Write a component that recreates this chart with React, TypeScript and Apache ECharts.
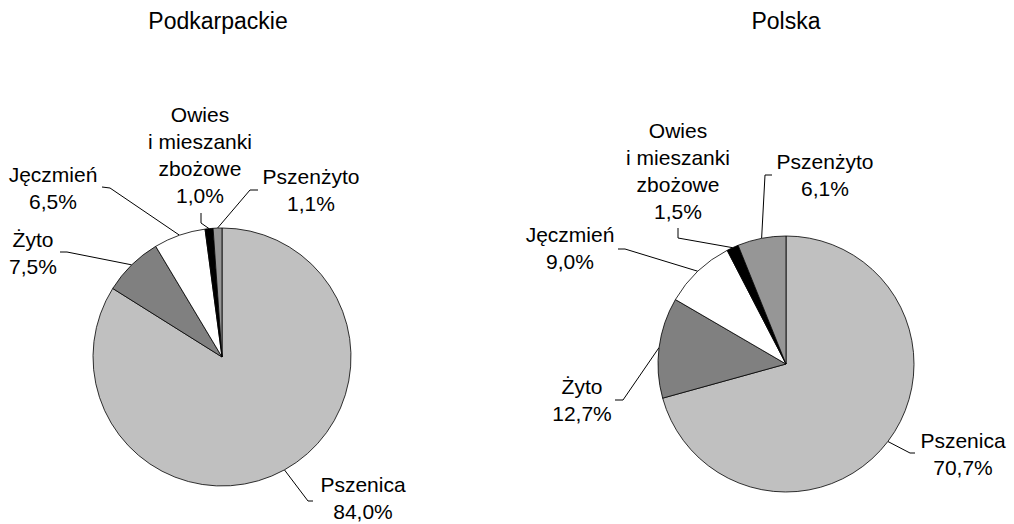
import React, { useEffect, useRef } from "react";
import * as echarts from "echarts";

const chartTitles = ["Podkarpackie", "Polska"];
const categories = ["Pszenica", "Żyto", "Jęczmień", "Owies i mieszanki zbożowe", "Pszenżyto"];
const categoryLabels = ["Pszenica", "Żyto", "Jęczmień", "Owies\ni mieszanki\nzbożowe", "Pszenżyto"];
const podkarpackieValues = [84.0, 7.5, 6.5, 1.0, 1.1];
const polskaValues = [70.7, 12.7, 9.0, 1.5, 6.1];
const sliceColors = ["#c0c0c0", "#808080", "#ffffff", "#000000", "#969696"];

// label layout: text-block centre, leader knee and leader end (per pie, per slice)
const labelPlacement = [
  [
    { c: [363, 498], knee: [308, 501], end: [313, 501] },
    { c: [33, 253], knee: [67, 252], end: [60, 252] },
    { c: [53, 188], knee: [110, 188], end: [102, 187] },
    { c: [200, 155], knee: [201, 223], end: [201, 213] },
    { c: [311, 190], knee: [250, 190], end: [258, 190] },
  ],
  [
    { c: [963, 454], knee: [910, 453], end: [915, 453] },
    { c: [582, 400], knee: [623, 400], end: [615, 400] },
    { c: [570, 248], knee: [625, 249], end: [618, 249] },
    { c: [678, 171], knee: [678, 238], end: [678, 228] },
    { c: [825, 175], knee: [765, 175], end: [772, 175] },
  ],
];

const FONT = "'Liberation Sans', Arial, sans-serif";

function fmt(v: number) {
  return v.toFixed(1).replace(".", ",") + "%";
}

export default function App() {
  const ref = useRef<HTMLDivElement>(null);
  useEffect(() => {
    if (!ref.current) return;
    const chart = echarts.init(ref.current, null, { renderer: "svg" });
    const makeSeries = (idx: number, values: number[], center: number[], radius: number) => ({
      type: "pie",
      name: chartTitles[idx],
      center,
      radius,
      startAngle: 90,
      clockwise: true,
      avoidLabelOverlap: false,
      silent: true,
      data: categories.map((name, i) => ({
        name,
        value: values[i],
        itemStyle: { color: sliceColors[i] },
      })),
      itemStyle: { borderColor: "#000", borderWidth: 0.8 },
      label: {
        show: true,
        position: "outside",
        formatter: (p: any) => categoryLabels[p.dataIndex] + "\n" + fmt(values[p.dataIndex]),
        fontFamily: FONT,
        fontSize: 21,
        lineHeight: 27,
        color: "#000",
        align: "center",
      },
      labelLine: { show: true, length: 10, length2: 10, lineStyle: { color: "#000", width: 1 } },
      labelLayout: (params: any) => {
        const pl = labelPlacement[idx][params.dataIndex];
        const pts = params.labelLinePoints;
        const edge = pts && pts[0] ? pts[0] : pl.knee;
        return {
          x: pl.c[0],
          y: pl.c[1],
          align: "center",
          verticalAlign: "middle",
          labelLinePoints: [[edge[0], edge[1]], pl.knee, pl.end],
        };
      },
    });
    chart.setOption({
      animation: false,
      backgroundColor: "#fff",
      graphic: [
        {
          type: "text",
          x: 218,
          y: 21,
          style: { text: chartTitles[0], font: `23px ${FONT}`, fill: "#000", align: "center", verticalAlign: "middle" },
        },
        {
          type: "text",
          x: 786,
          y: 21,
          style: { text: chartTitles[1], font: `23px ${FONT}`, fill: "#000", align: "center", verticalAlign: "middle" },
        },
      ],
      series: [
        makeSeries(0, podkarpackieValues, [222, 357], 129),
        makeSeries(1, polskaValues, [786, 364], 128),
      ],
    });
    return () => chart.dispose();
  }, []);
  return (
    <div
      ref={ref}
      style={{ position: "absolute", left: 0, top: 0, width: 1014, height: 524, background: "#fff" }}
    />
  );
}
